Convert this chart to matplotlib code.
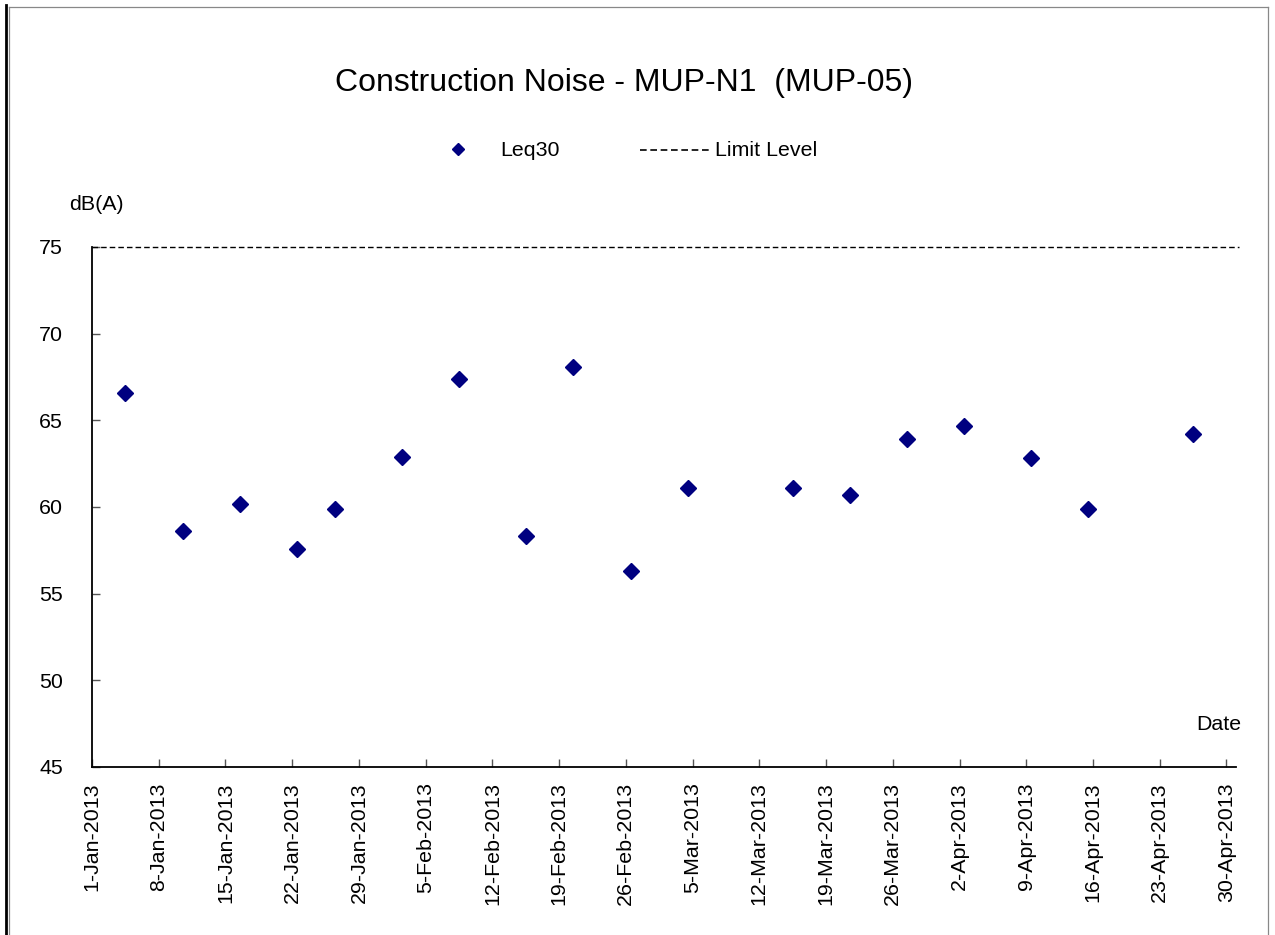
import matplotlib
matplotlib.use("Agg")
import matplotlib.pyplot as plt
import matplotlib.dates as mdates
from matplotlib.lines import Line2D
import datetime as dt

# ---- data ----
dates = ["2013-01-04", "2013-01-10", "2013-01-16", "2013-01-22", "2013-01-26",
         "2013-02-02", "2013-02-08", "2013-02-15", "2013-02-20", "2013-02-26",
         "2013-03-04", "2013-03-15", "2013-03-21", "2013-03-27", "2013-04-02",
         "2013-04-09", "2013-04-15", "2013-04-26"]
leq30 = [66.6, 58.6, 60.2, 57.6, 59.9,
         62.9, 67.4, 58.3, 68.1, 56.3,
         61.1, 61.1, 60.7, 63.9, 64.7,
         62.8, 59.9, 64.2]
limit_level = 75
y_ticks = [45, 50, 55, 60, 65, 70, 75]
x_start = "2013-01-01"
x_end = "2013-05-01"

plt.rcParams['font.family'] = ['Liberation Sans', 'DejaVu Sans']

W, H = 1275, 935
fig = plt.figure(figsize=(W / 100, H / 100), dpi=100)
fig.patch.set_facecolor("white")

def fx(px):
    return px / W

def fy(py):
    return 1 - py / H

ax = fig.add_axes([fx(92), fy(767), fx(1236) - fx(92), fy(247) - fy(767)])

x = [dt.datetime.strptime(d, "%Y-%m-%d") + dt.timedelta(hours=12) for d in dates]
x0 = dt.datetime.strptime(x_start, "%Y-%m-%d")
x1 = dt.datetime.strptime(x_end, "%Y-%m-%d")

ax.plot(x, leq30, linestyle="none", marker="D", markersize=8.0,
        color="#000080", markeredgecolor="#000080", zorder=3, clip_on=False)
ax.axhline(limit_level, color="black", linestyle=(0, (4, 2.2)), linewidth=1.0,
           xmin=0, xmax=1.0 + 3 / 1144, clip_on=False)

ax.set_xlim(x0, x1)
ax.set_ylim(45, 75)
ax.set_yticks(y_ticks)
ax.set_yticklabels([str(v) for v in y_ticks])

ticks = [x0 + dt.timedelta(days=7 * i) for i in range(18)]
ax.set_xticks(ticks)
ax.set_xticklabels([f"{t.day}-{t.strftime('%b-%Y')}" for t in ticks],
                   rotation=90, ha="center", va="top")

for s in ["top", "right"]:
    ax.spines[s].set_visible(False)
for s in ["left", "bottom"]:
    ax.spines[s].set_color("black")
    ax.spines[s].set_linewidth(1.3)

FS = 15.4
ax.tick_params(axis="y", direction="in", length=6, width=1, color="#555555",
               labelsize=FS, pad=21)
ax.tick_params(axis="x", direction="in", length=6, width=1, color="#555555",
               labelsize=FS, pad=11)

# title and labels
fig.text(fx(624), fy(83), "Construction Noise - MUP-N1  (MUP-05)",
         ha="center", va="center", fontsize=23)
fig.text(fx(96), fy(204), "dB(A)", ha="center", va="center", fontsize=FS)
fig.text(fx(1241), fy(724), "Date", ha="right", va="center", fontsize=FS)

# legend (manual)
fig.add_artist(Line2D([fx(458)], [fy(149)], marker="D", markersize=6.0,
                      color="#000080", linestyle="none"))
fig.text(fx(500), fy(150), "Leq30", ha="left", va="center", fontsize=FS)
fig.add_artist(Line2D([fx(640), fx(709)], [fy(150), fy(150)], color="black",
                      linestyle=(0, (4, 2.2)), linewidth=1.2))
fig.text(fx(715), fy(150), "Limit Level", ha="left", va="center", fontsize=FS)

# frame borders
fig.add_artist(Line2D([fx(6), fx(6)], [fy(5), fy(935)], color="black", linewidth=2.0))
fig.add_artist(Line2D([fx(8.8), fx(8.8)], [fy(6.5), fy(935)], color="#888888", linewidth=0.9))
fig.add_artist(Line2D([fx(8.8), fx(1268)], [fy(6.5), fy(6.5)], color="#888888", linewidth=0.9))
fig.add_artist(Line2D([fx(1268), fx(1268)], [fy(6.5), fy(935)], color="#888888", linewidth=0.9))

fig.savefig("out.png", dpi=100, facecolor="white")
